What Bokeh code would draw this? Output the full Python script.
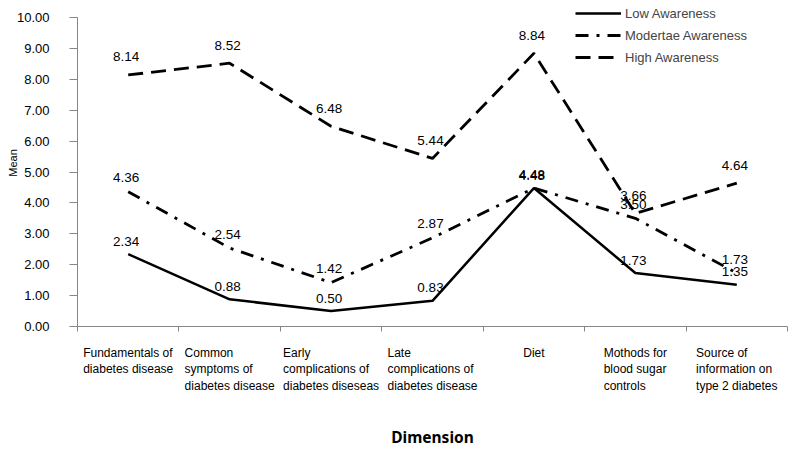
import numpy as np
from bokeh.plotting import figure
from bokeh.models import (Range1d, FixedTicker, CustomJSTickFormatter,
                          NumeralTickFormatter, Legend, LegendItem, ColumnDataSource)
from bokeh.core.properties import value
from bokeh.embed import file_html
from bokeh.resources import INLINE

categories = [
    "Fundamentals of\ndiabetes disease",
    "Common\nsymptoms of\ndiabetes disease",
    "Early\ncomplications of\ndiabetes diseseas",
    "Late\ncomplications of\ndiabetes disease",
    "Diet",
    "Mothods for\nblood sugar\ncontrols",
    "Source of\ninformation on\ntype 2 diabetes",
]
low = [2.34, 0.88, 0.50, 0.83, 4.48, 1.73, 1.35]
moderate = [4.36, 2.54, 1.42, 2.87, 4.48, 3.50, 1.73]
high = [8.14, 8.52, 6.48, 5.44, 8.84, 3.66, 4.64]
series_names = ["Low Awareness", "Modertae Awareness", "High Awareness"]
y_ticks = list(range(0, 11))
y_title = "Mean"
x_title = "Dimension"

FONT = "Liberation Sans"
AXIS_COLOR = "#868686"
CAT_SIZE = 12

# page layout (pixels): plot area edges inside the 796x451 canvas
W, H = 796, 451
PL, PR, PT, PB = 77, 787, 17, 326
YMAX = 10

# Arial / Liberation Sans advance widths (per 1000 em) for block-centering of labels
_W = {' ': 278, 'a': 556, 'b': 556, 'c': 500, 'd': 556, 'e': 556, 'f': 278, 'g': 556,
      'h': 556, 'i': 222, 'j': 222, 'k': 500, 'l': 222, 'm': 833, 'n': 556, 'o': 556,
      'p': 556, 'q': 556, 'r': 333, 's': 500, 't': 278, 'u': 556, 'v': 500, 'w': 722,
      'x': 500, 'y': 500, 'z': 500, 'C': 722, 'D': 722, 'E': 667, 'F': 611, 'L': 556,
      'M': 833, 'S': 667}


def block_width(text, size):
    return max(sum(_W.get(ch, 556) for ch in line) for line in text.split("\n")) * size / 1000


n = len(categories)
xs = np.arange(n) + 0.5
pxx = (PR - PL) / n          # pixels per category
pxy = (PB - PT) / YMAX       # pixels per y unit

p = figure(width=W, height=H, output_backend="svg", toolbar_location=None,
           x_range=Range1d(-PL / pxx, (W - PL) / pxx),
           y_range=Range1d(-(H - PB) / pxy, PB / pxy),
           min_border=0)
p.outline_line_color = None
p.grid.visible = False

# y axis (fixed at x = 0, line limited to 0..10)
ya = p.yaxis[0]
ya.fixed_location = 0
ya.bounds = (0, YMAX)
ya.ticker = FixedTicker(ticks=y_ticks)
ya.formatter = NumeralTickFormatter(format="0.00")
ya.minor_tick_line_color = None
ya.major_tick_in = 0
ya.major_tick_out = 8
ya.axis_line_color = AXIS_COLOR
ya.major_tick_line_color = AXIS_COLOR
ya.major_label_text_font = FONT
ya.major_label_text_font_size = "13px"
ya.major_label_text_color = "black"
ya.major_label_standoff = 20

# x axis (fixed at y = 0), tick marks at category boundaries
xa = p.xaxis[0]
xa.fixed_location = 0
xa.bounds = (0, n)
xa.ticker = FixedTicker(ticks=list(range(n + 1)))
xa.formatter = CustomJSTickFormatter(code="return ''")
xa.minor_tick_line_color = None
xa.major_tick_in = 0
xa.major_tick_out = 5
xa.axis_line_color = AXIS_COLOR
xa.major_tick_line_color = AXIS_COLOR
xa.major_label_text_font_size = "1px"

# category labels: left-aligned lines, block centred on the category
cat_src = ColumnDataSource(dict(x=xs, y=[0] * n, t=categories,
                                xo=[-block_width(c, CAT_SIZE) / 2 for c in categories]))
p.text("x", "y", text="t", source=cat_src, x_offset="xo", y_offset=19,
       text_align="left", text_baseline="top", text_font=value(FONT),
       text_font_size=f"{CAT_SIZE}px", text_color="black", text_line_height=1.2)

# axis titles
p.text(x=[0], y=[YMAX / 2], text=[y_title], x_offset=-65, y_offset=-9, angle=np.pi / 2,
       text_align="center", text_baseline="middle", text_font=value(FONT),
       text_font_size="11px", text_color="black")
p.text(x=[n / 2], y=[0], text=[x_title], y_offset=110,
       text_align="center", text_baseline="middle", text_font=value("Noto Sans"),
       text_font_size="15.5px", text_font_style="bold", text_color="black")

styles = [
    dict(line_dash="solid", line_width=2.5),
    dict(line_dash="13 8 3 8", line_width=2.8),
    dict(line_dash="15 8", line_width=2.8),
]
label_offsets = [-13, -14, -18]
items = []
for name, vals, st, off in zip(series_names, [low, moderate, high], styles, label_offsets):
    src = ColumnDataSource(dict(x=xs, y=vals, t=[f"{v:.2f}" for v in vals]))
    r = p.line("x", "y", source=src, line_color="black", **st)
    p.text("x", "y", text="t", source=src, text_align="center", text_baseline="middle",
           x_offset=-2, y_offset=off, text_font=value(FONT),
           text_font_size="13.5px", text_color="black")
    items.append(LegendItem(label=name, renderers=[r]))

legend = Legend(items=items, location=(575, H - 67), orientation="vertical",
                background_fill_alpha=0, border_line_color=None,
                label_text_font=FONT, label_text_font_size="13px",
                glyph_width=46, glyph_height=20, label_height=20,
                label_standoff=4, spacing=2, padding=0, margin=0)
p.add_layout(legend, "center")

open("out.html", "w").write(file_html(p, INLINE))
